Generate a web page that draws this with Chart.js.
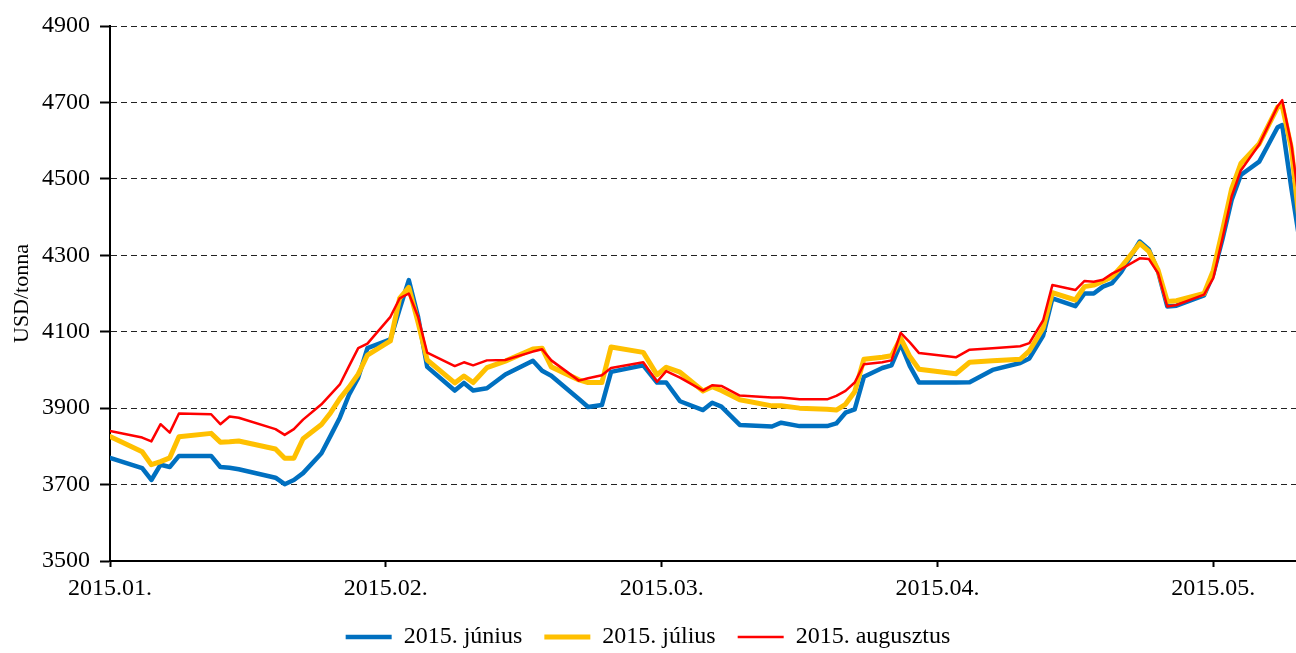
<!DOCTYPE html>
<html>
<head>
<meta charset="utf-8">
<script src="https://cdn.jsdelivr.net/npm/chart.js@4.4.0/dist/chart.umd.min.js"></script>
<style>
    html, body { margin: 0; padding: 0; background: #fff; }
    canvas { display: block; }
</style>
</head>
<body>
<canvas id="priceChart" width="1296" height="653"></canvas>
<script>
// Day offsets from 2015-01-01 (30 days per tick on the x axis)
const days = [0, 3.5, 4.5, 5.5, 6.5, 7.5, 11, 12, 13, 14, 18, 19, 20, 21, 23, 24, 25, 26, 27, 28,
    30.5, 31.5, 32.5, 33.5, 34.5, 37.5, 38.5, 39.5, 41, 43, 46, 47, 48, 51, 52, 53.5, 54.5, 58,
    59.5, 60.5, 62, 64.5, 65.5, 66.5, 68.5, 72, 73, 75, 78, 79, 80, 81, 82, 84, 85, 86, 87, 88,
    92, 93.5, 96, 99, 100, 101.5, 102.5, 105, 106, 107, 108, 109, 110, 112, 113, 114, 115, 116,
    119, 120, 121, 122, 123, 125, 126, 127, 127.5, 128.5, 129.5];

// USD/tonna, one value per entry in days
const june = [3770, 3743, 3712, 3752, 3746, 3775, 3775, 3746, 3744, 3740, 3718, 3701, 3712, 3730,
    3782, 3828, 3875, 3935, 3980, 4057, 4080, 4159, 4235, 4140, 4008, 3946, 3966, 3946, 3952, 3988,
    4024, 3998, 3985, 3924, 3903, 3908, 3995, 4012, 3967, 3967, 3918, 3895, 3914, 3904, 3856, 3852,
    3862, 3853, 3853, 3860, 3888, 3897, 3982, 4005, 4012, 4068, 4010, 3967, 3967, 3968, 4000, 4018,
    4030, 4090, 4187, 4167, 4200, 4200, 4218, 4227, 4257, 4336, 4315, 4257, 4166, 4168, 4195, 4250,
    4342, 4445, 4510, 4545, 4590, 4635, 4641, 4475, 4322];

const july = [3826, 3786, 3752, 3760, 3770, 3825, 3834, 3811, 3812, 3814, 3793, 3769, 3769, 3820,
    3857, 3888, 3925, 3955, 3989, 4039, 4076, 4187, 4216, 4125, 4026, 3966, 3984, 3967, 4006, 4023,
    4055, 4057, 4008, 3974, 3967, 3967, 4060, 4046, 3987, 4007, 3994, 3945, 3956, 3946, 3922, 3906,
    3906, 3900, 3897, 3895, 3910, 3943, 4028, 4033, 4037, 4083, 4035, 4002, 3990, 4020, 4024, 4028,
    4050, 4110, 4202, 4183, 4218, 4222, 4232, 4244, 4270, 4331, 4310, 4261, 4179, 4181, 4200, 4260,
    4365, 4474, 4540, 4592, 4640, 4688, 4691, 4580, 4354];

const august = [3840, 3823, 3813, 3858, 3836, 3886, 3884, 3858, 3878, 3875, 3845, 3830, 3845, 3870,
    3910, 3936, 3962, 4010, 4057, 4069, 4139, 4187, 4200, 4140, 4045, 4010, 4020, 4012, 4025, 4026,
    4048, 4054, 4025, 3972, 3978, 3986, 4005, 4020, 3969, 3997, 3980, 3946, 3960, 3958, 3933, 3928,
    3928, 3923, 3923, 3932, 3945, 3967, 4015, 4020, 4025, 4097, 4072, 4044, 4033, 4053, 4057, 4062,
    4070, 4130, 4222, 4209, 4233, 4231, 4236, 4252, 4264, 4292, 4290, 4253, 4166, 4170, 4197, 4240,
    4344, 4454, 4522, 4590, 4640, 4690, 4706, 4590, 4413];

const seriesLabels = ['2015. június', '2015. július', '2015. augusztus'];
const monthTicks = [0, 30, 60, 90, 120];
const monthLabels = ['2015.01.', '2015.02.', '2015.03.', '2015.04.', '2015.05.'];

const serif = "'Liberation Serif', 'Times New Roman', serif";
Chart.defaults.font.family = serif;
Chart.defaults.color = '#000';

function toPoints(values) {
    return values.map((v, i) => ({ x: days[i], y: v }));
}

const ctx = document.getElementById('priceChart');
new Chart(ctx, {
    type: 'line',
    data: {
        datasets: [{
            label: seriesLabels[0],
            data: toPoints(june),
            borderColor: '#0070C0',
            backgroundColor: '#0070C0',
            borderWidth: 4.5,
            order: 3
        }, {
            label: seriesLabels[1],
            data: toPoints(july),
            borderColor: '#FFC000',
            backgroundColor: '#FFC000',
            borderWidth: 5,
            order: 2
        }, {
            label: seriesLabels[2],
            data: toPoints(august),
            borderColor: '#FF0000',
            backgroundColor: '#FF0000',
            borderWidth: 2.5,
            order: 1
        }]
    },
    options: {
        responsive: false,
        animation: false,
        layout: {
            padding: { top: 26, right: 0, bottom: -6, left: 0 }
        },
        elements: {
            point: { radius: 0, hoverRadius: 0 },
            line: { tension: 0, borderJoinStyle: 'round', borderCapStyle: 'round' }
        },
        plugins: {
            legend: {
                position: 'bottom',
                labels: {
                    usePointStyle: true,
                    pointStyle: 'line',
                    pointStyleWidth: 46,
                    padding: 22,
                    color: '#000',
                    font: { size: 24 },
                    // keep legend in dataset order, not draw order
                    sort: (a, b) => a.datasetIndex - b.datasetIndex
                }
            },
            tooltip: { enabled: false }
        },
        scales: {
            x: {
                type: 'linear',
                min: 0,
                max: 129,
                afterBuildTicks: (scale) => {
                    scale.ticks = monthTicks.map(v => ({ value: v }));
                },
                afterFit: (scale) => {
                    scale.height = 42;
                },
                ticks: {
                    autoSkip: false,
                    maxRotation: 0,
                    padding: 7,
                    font: { size: 24 },
                    callback: (value) => monthLabels[monthTicks.indexOf(value)]
                },
                grid: {
                    drawOnChartArea: false,
                    tickLength: 6,
                    tickWidth: 2,
                    tickColor: '#000'
                },
                border: { color: '#000', width: 2 }
            },
            y: {
                min: 3500,
                max: 4900,
                afterFit: (scale) => {
                    scale.width = 110;
                },
                ticks: {
                    stepSize: 200,
                    padding: 10,
                    font: { size: 24 },
                    callback: (value) => String(value)
                },
                grid: {
                    color: '#222',
                    lineWidth: 1,
                    tickLength: 10,
                    tickWidth: 2,
                    tickColor: '#000'
                },
                border: { color: '#000', width: 2, dash: [6, 4] },
                title: {
                    display: true,
                    text: 'USD/tonna',
                    font: { size: 22 },
                    padding: { top: 9, bottom: 0 }
                }
            }
        }
    }
});
</script>
</body>
</html>
